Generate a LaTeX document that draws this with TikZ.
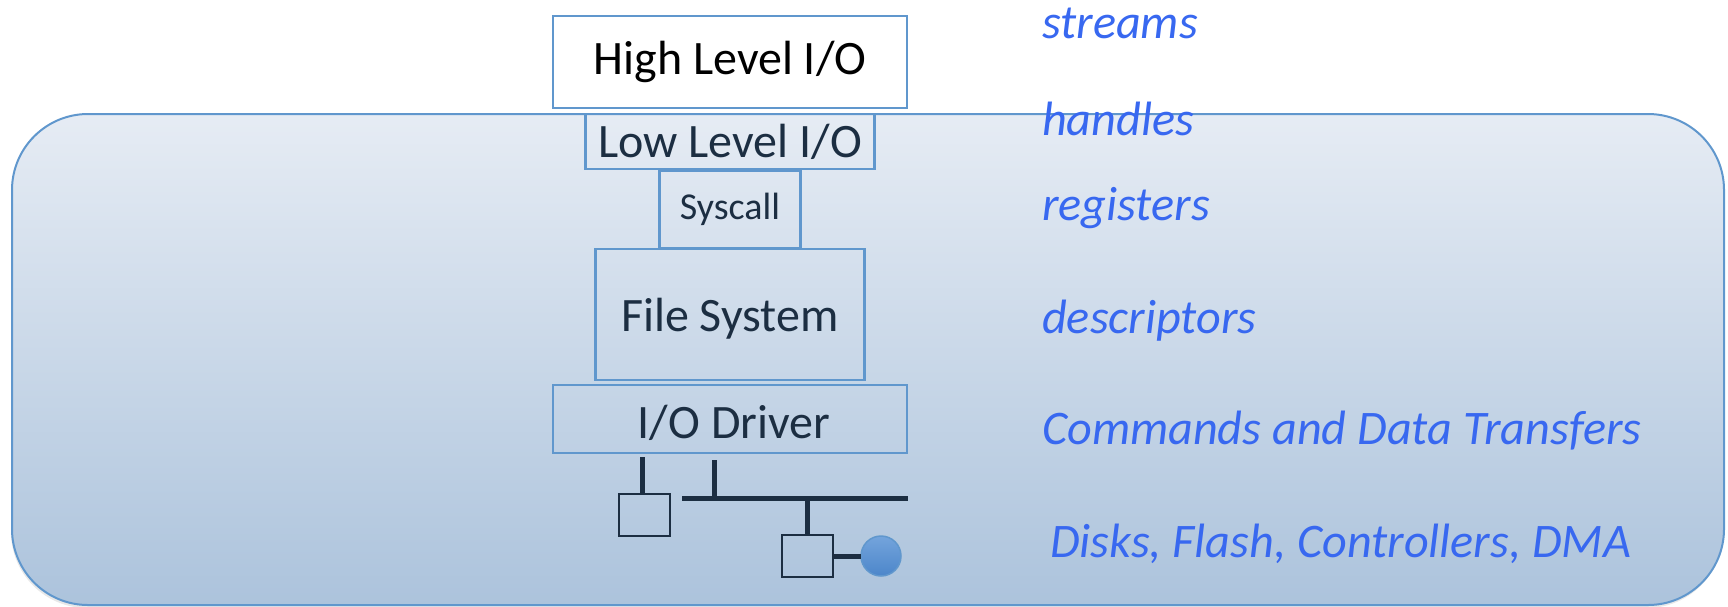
\documentclass[tikz,border=0pt]{standalone}
\usepackage{fontspec}
\setmainfont{Carlito}
\usepackage{xcolor}
\usetikzlibrary{positioning}
\usetikzlibrary{shadows}
\definecolor{edgeblue}{HTML}{6097CD}
\definecolor{inkdark}{HTML}{1C2E42}
\definecolor{labelblue}{HTML}{3868F0}
\definecolor{paneltop}{HTML}{E6ECF4}
\definecolor{panelbot}{HTML}{ACC3DC}
\definecolor{disktop}{HTML}{74A4DC}
\definecolor{diskbot}{HTML}{4C86CA}
\tikzset{
  layer/.style={draw=edgeblue, line width=2.5pt, outer sep=0pt, inner sep=0pt, text=inkdark, align=center, font=\fontsize{48}{56}\selectfont},
  iface/.style={text=labelblue, font=\itshape\fontsize{48.2}{56}\selectfont, anchor=base west, inner sep=0pt},
  hwbox/.style={draw=inkdark, line width=2.5pt, outer sep=0pt, inner sep=0pt, minimum width=51pt, minimum height=42pt},
  wire/.style={draw=inkdark, line width=5pt},
}

\begin{document}
\begin{tikzpicture}[x=1pt, y=-1pt]
\useasboundingbox (0,0) rectangle (1728,606);
% background panel
\node (panel) [draw=edgeblue, line width=2pt, rounded corners=76pt, top color=paneltop, bottom color=panelbot,
  drop shadow={opacity=.18, shadow xshift=-1pt, shadow yshift=-3pt},
  minimum width=1712pt, minimum height=491pt, outer sep=0pt] at (868,359.5) {};
% software layers
\node (high) [layer, fill=white, text=black, minimum width=354pt, minimum height=92pt] at (730,62) {High Level I/O};
\node (low) [layer, below=6pt of high, minimum width=289pt, minimum height=55pt] {Low Level I/O};
\node (syscall) [layer, below=2pt of low, minimum width=141pt, minimum height=77pt, font=\fontsize{38}{44}\selectfont] {Syscall};
\node (fs) [layer, below=1pt of syscall, minimum width=269pt, minimum height=131pt, text height=38pt, text depth=4pt] {File System};
\node (driver) [layer, below=5pt of fs, minimum width=354pt, minimum height=68pt, text height=42pt, text depth=4pt] {\hspace*{8pt}I/O Driver};
% labels on the right
\node (streams) [iface] at (1042,38) {streams};
\node (handles) [iface] at (1042,135) {handles};
\node (registers) [iface] at (1042,220) {registers};
\node (descriptors) [iface] at (1042,333) {descriptors};
\node (commands) [iface] at (1042,444) {Commands and Data Transfers};
\node (disks) [iface] at (1050,557) {Disks, Flash, Controllers, DMA};
% hardware
\node (hostbox) [hwbox] at (644.5,515) {};
\node (devbox) [hwbox] at (807.5,556) {};
\node (disk) [circle, draw=edgeblue, line width=1.5pt, top color=disktop, bottom color=diskbot,
  minimum size=40pt, inner sep=0pt, outer sep=0pt] at (881,556) {};
% bus and stubs
\coordinate (hoststub) at (642,457);
\coordinate (busstub) at (714,460);
\coordinate (busleft) at (682,498);
\coordinate (busright) at (908,498);
\draw [wire] (hoststub) -- (hoststub |- hostbox.north);
\draw [wire] (busleft) -- (busright);
\draw [wire] (busstub) -- (busstub |- busleft);
\draw [wire] (devbox.north) -- (devbox.north |- busleft);
\draw [wire] (devbox) -- (disk);
\end{tikzpicture}
\end{document}
